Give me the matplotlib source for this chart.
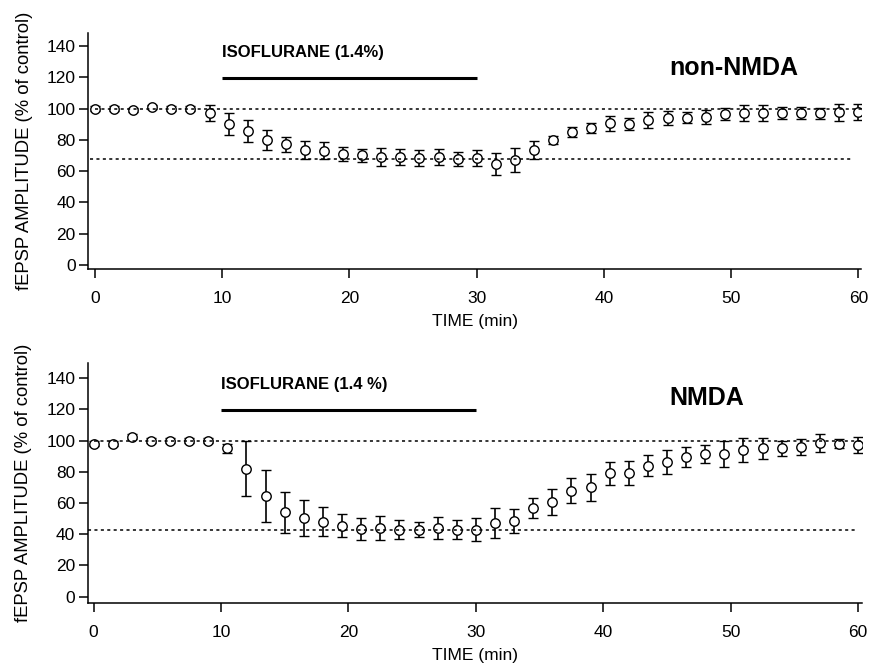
import matplotlib
matplotlib.use("Agg")
import matplotlib.pyplot as plt
import numpy as np

plt.rcParams['font.family'] = ['Liberation Sans', 'DejaVu Sans']

# data (time in min, fEPSP amplitude in % of control, SEM)
time = np.arange(41) * 1.5

nonnmda = [100, 100, 99, 101, 100, 100, 97, 90, 85.5, 80,
           77, 73.5, 73, 71, 70, 69, 69, 68.5, 69, 68,
           68.5, 64.5, 67, 73.5, 80, 85, 87.5, 90.5, 90, 92.5,
           94, 94, 94.5, 96.5, 97, 97, 97, 97, 97, 97.5, 98]
nonnmda_err = [1.5, 1.5, 1.5, 1.5, 1.5, 1.5, 5, 7, 7, 6.5,
               5, 5.5, 5.5, 4.5, 4.3, 5.5, 5.3, 5, 5.3, 4.5,
               5, 6.8, 7.8, 6, 2.5, 3, 3, 5, 3.7, 5,
               4.7, 3.5, 4.7, 3.7, 5.2, 5, 3.9, 3.9, 3.5, 5.3, 5.2]

nmda = [98, 98, 102.5, 100, 100, 100, 100, 95, 82, 64.5,
        54, 50.5, 48, 45.5, 43.5, 44, 43, 43, 44, 43,
        43, 47, 48.5, 57, 60.5, 68, 70, 79, 79, 84,
        86.5, 89.5, 91.5, 91.5, 94, 95, 95, 96, 98.5, 98, 97]
nmda_err = [1.5, 1.5, 1.5, 1.5, 1.5, 1.5, 1.5, 3, 17.7, 16.6,
            13.3, 11.5, 9.2, 7.4, 7, 7.9, 6.1, 5, 6.8, 5.9,
            7.4, 9.6, 7.5, 6.3, 8.2, 8.2, 8.8, 7.5, 7.7, 6.9,
            7.8, 6.3, 5.9, 8.2, 7.9, 6.9, 4.7, 5.3, 5.6, 3, 5.2]

panels = [
    dict(y=nonnmda, err=nonnmda_err, low=68, low_end=59.5, name='non-NMDA',
         name_xy=(50.2, 126), drug='ISOFLURANE (1.4%)',
         pos=[0.1015, 0.595, 0.888, 0.3555], xlim=(-0.53, 60.2), ylim=(-2.6, 148.4)),
    dict(y=nmda, err=nmda_err, low=43, low_end=60, name='NMDA',
         name_xy=(48.1, 127.4), drug='ISOFLURANE (1.4 %)',
         pos=[0.1008, 0.092, 0.890, 0.361], xlim=(-0.46, 60.3), ylim=(-4, 149.6)),
]

fig = plt.figure(figsize=(8.7, 6.64), dpi=100)

for p in panels:
    ax = fig.add_axes(p['pos'])
    ax.errorbar(time, p['y'], yerr=p['err'], fmt='o', ms=6.8, mfc='white', mec='black',
                mew=1.0, ecolor='black', elinewidth=1.2, capsize=3.3, capthick=1.5, zorder=3)
    ax.hlines(100, 0, 60.2, colors='black', linestyles=(0, (2, 2.2)), lw=1.1, zorder=4)
    ax.hlines(p['low'], -0.4, p['low_end'], colors='black', linestyles=(0, (2, 2.2)), lw=1.1, zorder=4)
    # isoflurane application bar
    ax.plot([10, 30], [119.5, 119.5], color='black', lw=2.2, solid_capstyle='butt')
    ax.text(10, 136, p['drug'], fontsize=12, fontweight='bold', ha='left', va='center')
    ax.text(p['name_xy'][0], p['name_xy'][1], p['name'], fontsize=18, fontweight='bold',
            ha='center', va='center')

    ax.set_xlim(*p['xlim'])
    ax.set_ylim(*p['ylim'])
    ax.set_xticks(range(0, 61, 10))
    ax.set_yticks(range(0, 141, 20))
    ax.spines['top'].set_visible(False)
    ax.spines['right'].set_visible(False)
    for s in ('left', 'bottom'):
        ax.spines[s].set_linewidth(1.1)
    ax.tick_params(axis='both', direction='out', length=6.5, width=1.1, labelsize=12.5)
    ax.tick_params(axis='y', pad=2.5)
    ax.tick_params(axis='x', pad=9.5)
    ax.set_xlabel('TIME (min)', fontsize=12.5, labelpad=6)
    ax.set_ylabel('fEPSP AMPLITUDE (% of control)', fontsize=13.3, labelpad=10)

fig.savefig('out.png', dpi=100)
